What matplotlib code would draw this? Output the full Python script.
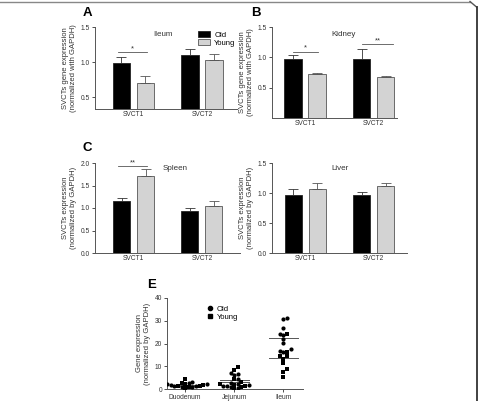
import numpy as np
import matplotlib
matplotlib.use('Agg')
import matplotlib.pyplot as plt
from matplotlib.patches import Patch
from matplotlib.lines import Line2D

plt.rcParams['font.family'] = ['Liberation Sans', 'DejaVu Sans']

genes = ['SVCT1', 'SVCT2']

ileum_old = [0.98, 1.10]
ileum_old_err = [0.09, 0.08]
ileum_young = [0.70, 1.03]
ileum_young_err = [0.10, 0.09]

kidney_old = [0.97, 0.98]
kidney_old_err = [0.07, 0.16]
kidney_young = [0.72, 0.67]
kidney_young_err = [0.02, 0.02]

spleen_old = [1.16, 0.93]
spleen_old_err = [0.07, 0.06]
spleen_young = [1.72, 1.05]
spleen_young_err = [0.15, 0.10]

liver_old = [0.97, 0.96]
liver_old_err = [0.10, 0.06]
liver_young = [1.07, 1.11]
liver_young_err = [0.10, 0.06]

segments = ['Duodenum', 'Jejunum', 'Ileum']
seg_old = [
    [2.9, 2.6, 2.3, 2.0, 1.7, 1.4, 1.2, 1.0, 0.8],
    [7.0, 6.6, 6.1, 4.4, 2.6, 2.2, 1.8, 1.5, 1.2, 0.9, 0.5],
    [30.8, 31.2, 26.8, 24.2, 23.7, 22.0, 20.2, 17.6, 16.3, 16.7],
]
seg_young = [
    [4.2, 2.7, 2.2, 1.8, 1.5, 1.1, 0.8, 0.6],
    [9.7, 8.4, 4.4, 3.0, 2.4, 1.9, 1.5, 1.0, 0.3],
    [24.2, 16.3, 14.5, 14.5, 13.2, 11.4, 8.8, 7.5, 5.3],
]
seg_mean_hi = [1.9, 4.0, 22.3]
seg_mean_lo = [1.5, 3.1, 13.7]

W, H = 479, 401
fig = plt.figure(figsize=(W / 100, H / 100), dpi=100)

AX_COL = '#555555'
GREY = '#d3d3d3'


def add_ax(left, top, right, bottom):
    return fig.add_axes([left / W, 1 - bottom / H, (right - left) / W, (bottom - top) / H])


def style(ax):
    for s in ['top', 'right']:
        ax.spines[s].set_visible(False)
    for s in ['left', 'bottom']:
        ax.spines[s].set_color(AX_COL)
        ax.spines[s].set_linewidth(0.7)
    ax.tick_params(axis='both', labelsize=4.8, colors='#333333', length=2, width=0.6, pad=1.5)
    ax.tick_params(axis='x', length=0)


def bar_panel(ax, old, old_err, young, young_err, xlim, ylim, yticks, ylabel):
    x = np.arange(len(genes))
    ax.bar(x - 0.175, old, 0.25, color='black', edgecolor='#222222', linewidth=0.6,
           yerr=[[0] * len(old), old_err], error_kw=dict(ecolor='#333333', elinewidth=0.6, capsize=3.5, capthick=0.6))
    ax.bar(x + 0.175, young, 0.25, color=GREY, edgecolor='#555555', linewidth=0.6,
           yerr=[[0] * len(young), young_err], error_kw=dict(ecolor='#555555', elinewidth=0.6, capsize=3.5, capthick=0.6))
    ax.set_xlim(*xlim)
    ax.set_ylim(*ylim)
    ax.set_yticks(yticks)
    ax.set_yticklabels(['%.1f' % t for t in yticks])
    ax.set_xticks(x)
    ax.set_xticklabels(genes)
    ax.set_ylabel(ylabel, fontsize=5.5, color='#333333', labelpad=3, linespacing=1.1)
    style(ax)


def sig(ax, x0, x1, y, txt):
    ax.plot([x0, x1], [y, y], color='#555555', lw=0.6)
    ax.text((x0 + x1) / 2, y, txt, ha='center', va='bottom', fontsize=5.5, color='#333333')


# A - Ileum
axA = add_ax(95, 27, 237, 109)
bar_panel(axA, ileum_old, ileum_old_err, ileum_young, ileum_young_err,
          (-0.56, 1.51), (0.33, 1.5), [0.5, 1.0, 1.5],
          'SVCTs gene expression\n(normalized with GAPDH)')
sig(axA, -0.23, 0.2, 1.14, '*')
axA.text(0.48, 0.91, 'Ileum', transform=axA.transAxes, ha='center', va='center', fontsize=5.8, color='#333333')
axA.legend(handles=[Patch(facecolor='black', edgecolor='#222222', lw=0.6, label='Old'),
                    Patch(facecolor=GREY, edgecolor='#555555', lw=0.6, label='Young')],
           loc='upper left', bbox_to_anchor=(0.7, 1.0), frameon=False, fontsize=5.5,
           handlelength=1.6, handleheight=0.9, handletextpad=0.5, labelspacing=0.05, borderpad=0)

# B - Kidney
axB = add_ax(272, 27, 397, 118)
bar_panel(axB, kidney_old, kidney_old_err, kidney_young, kidney_young_err,
          (-0.48, 1.34), (0, 1.5), [0.5, 1.0, 1.5],
          'SVCTs gene expression\n(normalized with GAPDH)')
sig(axB, -0.18, 0.19, 1.09, '*')
sig(axB, 0.83, 1.28, 1.22, '**')
axB.text(0.57, 0.92, 'Kidney', transform=axB.transAxes, ha='center', va='center', fontsize=5.8, color='#333333')

# C - Spleen
axC = add_ax(95, 163, 240, 253)
bar_panel(axC, spleen_old, spleen_old_err, spleen_young, spleen_young_err,
          (-0.57, 1.56), (0, 2.0), [0.0, 0.5, 1.0, 1.5, 2.0],
          'SVCTs expression\n(normalized by GAPDH)')
sig(axC, -0.23, 0.19, 1.93, '**')
axC.text(0.55, 0.94, 'Spleen', transform=axC.transAxes, ha='center', va='center', fontsize=5.8, color='#333333')

# D - Liver
axD = add_ax(272, 163, 407, 253)
bar_panel(axD, liver_old, liver_old_err, liver_young, liver_young_err,
          (-0.49, 1.49), (0, 1.5), [0.0, 0.5, 1.0, 1.5],
          'SVCTs expression\n(normalized by GAPDH)')
axD.text(0.5, 0.94, 'Liver', transform=axD.transAxes, ha='center', va='center', fontsize=5.8, color='#333333')

# E - intestinal segments
axE = add_ax(167, 298, 303, 389)
axE.set_xlim(-0.37, 2.4)
axE.set_ylim(0, 40)
px_per_x = 136 / 2.77
px_per_y = 91 / 40.0
step = 3.6  # px, points may overlap a bit like in prism


def swarm(vals):
    # simple beeswarm layout in pixel space
    order = np.argsort(vals)
    placed = []
    offs = np.zeros(len(vals))
    for i in order:
        y = vals[i] * px_per_y
        k = 0
        while True:
            cand = [0.0] if k == 0 else [k * step, -k * step]
            ok = None
            for c in cand:
                if all((c - px) ** 2 + (y - py) ** 2 >= step ** 2 for px, py in placed):
                    ok = c
                    break
            if ok is not None:
                placed.append((ok, y))
                offs[i] = ok / px_per_x
                break
            k += 1
    return offs


for i in range(len(segments)):
    vals_o = np.array(seg_old[i])
    vals_y = np.array(seg_young[i])
    allv = np.concatenate([vals_o, vals_y])
    offs = swarm(allv)
    n = len(vals_o)
    axE.scatter(i + offs[:n], vals_o, s=9, marker='o', color='black', linewidths=0, zorder=3)
    axE.scatter(i + offs[n:], vals_y, s=8, marker='s', color='black', linewidths=0, zorder=3)
    for m in (seg_mean_hi[i], seg_mean_lo[i]):
        axE.plot([i - 0.3, i + 0.3], [m, m], color='#555555', lw=0.7, zorder=2)

axE.set_xticks(range(len(segments)))
axE.set_xticklabels(segments)
axE.set_yticks([0, 10, 20, 30, 40])
axE.set_ylabel('Gene expression\n(normalized by GAPDH)', fontsize=5.5, color='#333333', labelpad=3, linespacing=1.1)
style(axE)
axE.tick_params(axis='x', length=2)
axE.legend(handles=[Line2D([], [], marker='o', color='black', ls='none', ms=3, label='Old'),
                    Line2D([], [], marker='s', color='black', ls='none', ms=3, label='Young')],
           loc='upper left', bbox_to_anchor=(0.26, 0.96), frameon=False, fontsize=5.5,
           handlelength=1.0, handletextpad=0.4, labelspacing=0.05, borderpad=0)

# panel letters
for lbl, xp, yp in [('A', 87, 13), ('B', 256, 13), ('C', 87, 148), ('E', 152, 285)]:
    fig.text(xp / W, 1 - yp / H, lbl, fontsize=9.5, fontweight='bold', ha='center', va='center')

# frame around the figure
fig.add_artist(Line2D([0, 470 / W], [1 - 1.5 / H, 1 - 1.5 / H], color='#888888', lw=1.0))
fig.add_artist(Line2D([470 / W, 476.5 / W], [1 - 1.5 / H, 1 - 7 / H], color='#555555', lw=1.0))
fig.add_artist(Line2D([476.5 / W, 476.5 / W], [1 - 7 / H, 0], color='#333333', lw=1.3))

fig.savefig('out.png', dpi=100)
